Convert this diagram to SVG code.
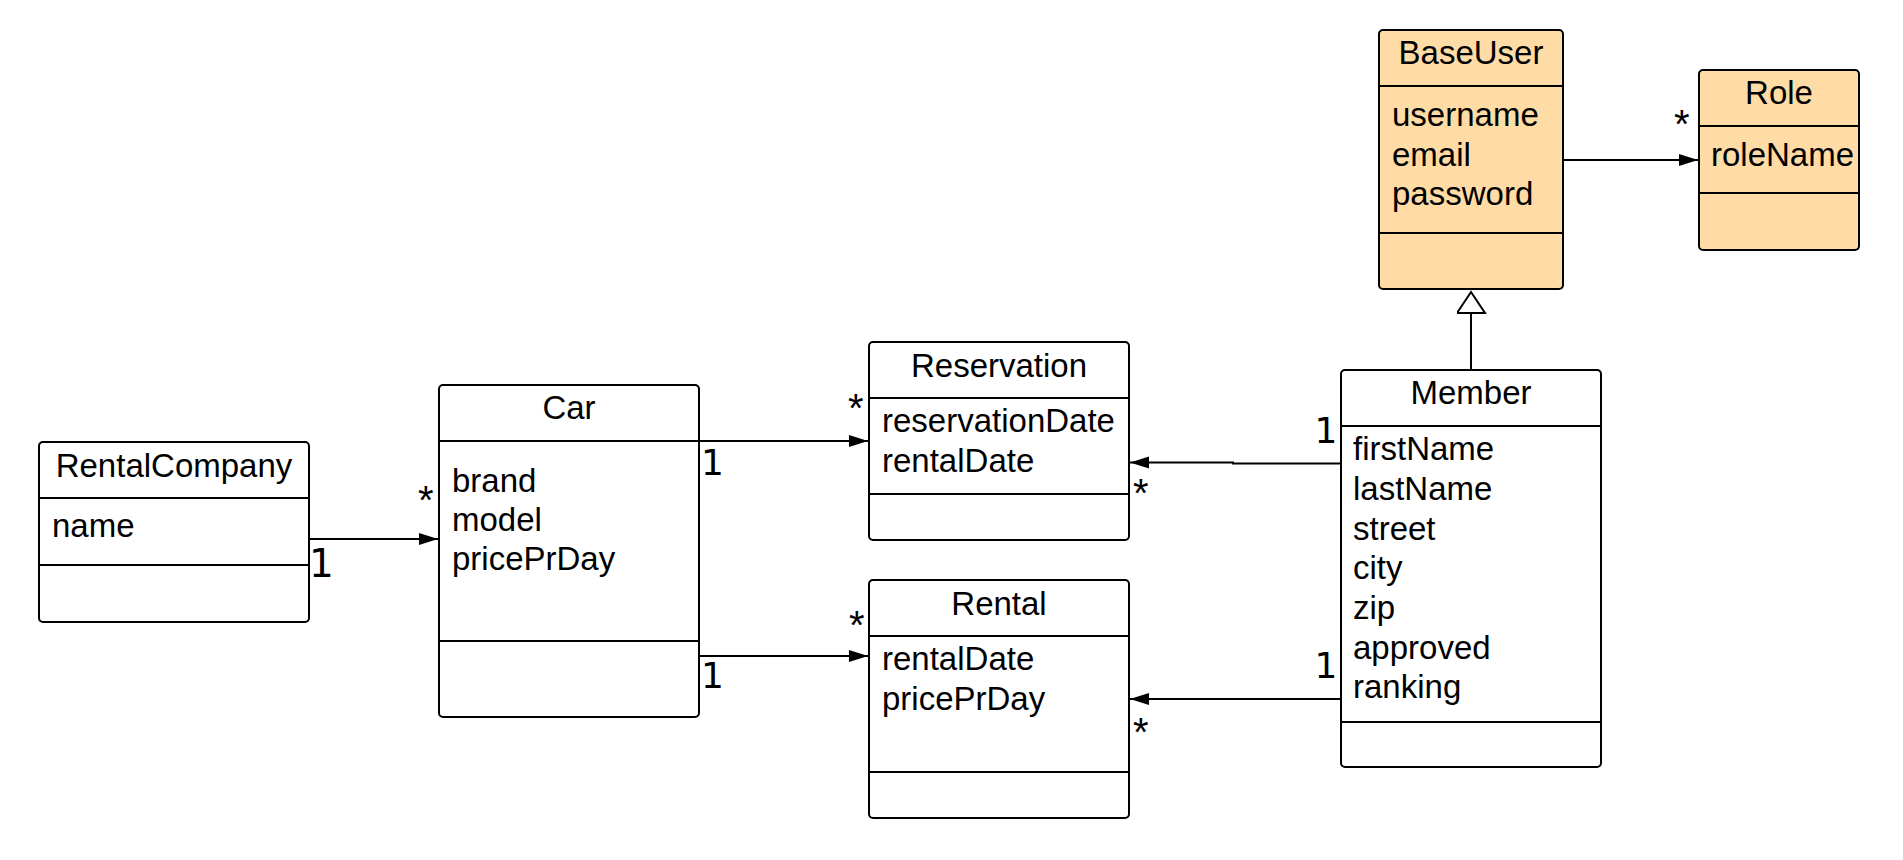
<svg xmlns="http://www.w3.org/2000/svg" width="1903" height="860" viewBox="0 0 1903 860">
<style>
.box{fill:#ffffff;stroke:#000;stroke-width:2}
.orange{fill:#ffdba6}
.sep{stroke:#000;stroke-width:2}
text{font-family:"Liberation Sans",Arial,sans-serif;fill:#000}
.t{font-size:33px;text-anchor:middle}
.a{font-size:33px}
.m{font-family:"DejaVu Sans",sans-serif;font-size:36px}
.s{font-size:40px}
.conn{fill:none;stroke:#000;stroke-width:2}
</style>
<defs>
<marker id="arr" markerUnits="userSpaceOnUse" markerWidth="20" markerHeight="14" refX="19" refY="6" orient="auto">
<path d="M0,0 L19,6 L0,12 z" fill="#000"/>
</marker>
<marker id="gen" markerUnits="userSpaceOnUse" markerWidth="30" markerHeight="30" refX="22" refY="14" orient="auto">
<path d="M1,0 L22,14 L1,28 z" fill="#fff" stroke="#000" stroke-width="2"/>
</marker>
</defs>
<rect width="1903" height="860" fill="#fff"/>

<g id="connectors">
<path class="conn" d="M309,539 H438" marker-end="url(#arr)"/>
<path class="conn" d="M699,441 H868" marker-end="url(#arr)"/>
<path class="conn" d="M699,656 H868" marker-end="url(#arr)"/>
<path class="conn" d="M1341,463.5 H1233 V462.5 H1130" marker-end="url(#arr)"/>
<path class="conn" d="M1341,699 H1130" marker-end="url(#arr)"/>
<path class="conn" d="M1563,160 H1698" marker-end="url(#arr)"/>
<path class="conn" d="M1471,370 V292" marker-end="url(#gen)"/>
<text class="m" x="309" y="577" style="font-size:39px">1</text>
<text class="s" x="418" y="514">*</text>
<text class="m" x="701" y="475">1</text>
<text class="m" x="701" y="688">1</text>
<text class="s" x="848" y="421.5">*</text>
<text class="s" x="849" y="639">*</text>
<text class="s" x="1133" y="507">*</text>
<text class="s" x="1133" y="746">*</text>
<text class="m" x="1314.5" y="443">1</text>
<text class="m" x="1314.5" y="678">1</text>
<text class="s" x="1674" y="138">*</text>
</g>

<g id="RentalCompany">
<rect class="box" x="39" y="442" width="270" height="180" rx="4"/>
<line class="sep" x1="39" y1="498" x2="309" y2="498"/>
<line class="sep" x1="39" y1="565" x2="309" y2="565"/>
<text class="t" x="174" y="477">RentalCompany</text>
<text class="a" x="52" y="537">name</text>
</g>

<g id="Car">
<rect class="box" x="439" y="385" width="260" height="332" rx="4"/>
<line class="sep" x1="439" y1="441" x2="699" y2="441"/>
<line class="sep" x1="439" y1="641" x2="699" y2="641"/>
<text class="t" x="569" y="419">Car</text>
<text class="a" x="452" y="492">brand</text>
<text class="a" x="452" y="531">model</text>
<text class="a" x="452" y="570">pricePrDay</text>
</g>

<g id="Reservation">
<rect class="box" x="869" y="342" width="260" height="198" rx="4"/>
<line class="sep" x1="869" y1="398" x2="1129" y2="398"/>
<line class="sep" x1="869" y1="494" x2="1129" y2="494"/>
<text class="t" x="999" y="377">Reservation</text>
<text class="a" x="882" y="432">reservationDate</text>
<text class="a" x="882" y="471.5">rentalDate</text>
</g>

<g id="Rental">
<rect class="box" x="869" y="580" width="260" height="238" rx="4"/>
<line class="sep" x1="869" y1="636" x2="1129" y2="636"/>
<line class="sep" x1="869" y1="772" x2="1129" y2="772"/>
<text class="t" x="999" y="615">Rental</text>
<text class="a" x="882" y="670">rentalDate</text>
<text class="a" x="882" y="710">pricePrDay</text>
</g>

<g id="Member">
<rect class="box" x="1341" y="370" width="260" height="397" rx="4"/>
<line class="sep" x1="1341" y1="426" x2="1601" y2="426"/>
<line class="sep" x1="1341" y1="722" x2="1601" y2="722"/>
<text class="t" x="1471" y="404">Member</text>
<text class="a" x="1353" y="460">firstName</text>
<text class="a" x="1353" y="500">lastName</text>
<text class="a" x="1353" y="539.5">street</text>
<text class="a" x="1353" y="579">city</text>
<text class="a" x="1353" y="619">zip</text>
<text class="a" x="1353" y="659">approved</text>
<text class="a" x="1353" y="698">ranking</text>
</g>

<g id="BaseUser">
<rect class="box orange" x="1379" y="30" width="184" height="259" rx="4"/>
<line class="sep" x1="1379" y1="86" x2="1563" y2="86"/>
<line class="sep" x1="1379" y1="233" x2="1563" y2="233"/>
<text class="t" x="1471" y="64">BaseUser</text>
<text class="a" x="1392" y="126">username</text>
<text class="a" x="1392" y="166">email</text>
<text class="a" x="1392" y="205">password</text>
</g>

<g id="Role">
<rect class="box orange" x="1699" y="70" width="160" height="180" rx="4"/>
<line class="sep" x1="1699" y1="126" x2="1859" y2="126"/>
<line class="sep" x1="1699" y1="193" x2="1859" y2="193"/>
<text class="t" x="1779" y="104">Role</text>
<text class="a" x="1711" y="166">roleName</text>
</g>
</svg>
